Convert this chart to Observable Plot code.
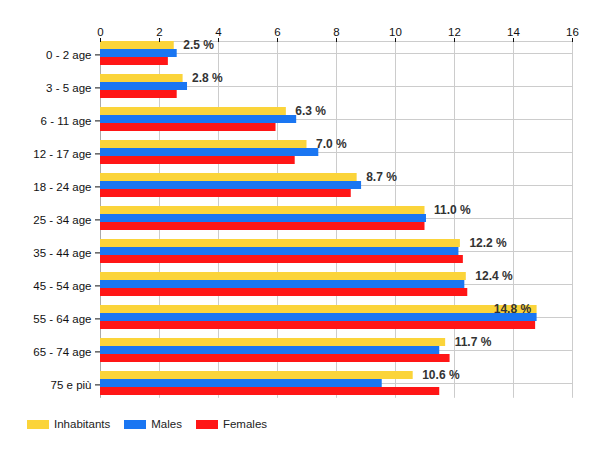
<!DOCTYPE html>
<html><head><meta charset="utf-8">
<script src="https://cdn.jsdelivr.net/npm/d3@7"></script>
<script src="https://cdn.jsdelivr.net/npm/@observablehq/plot@0.6"></script>
<style>
body{margin:0;background:#fff;font-family:"Liberation Sans",Arial,sans-serif}
#wrap{position:relative;width:600px;height:450px}
#legend{position:absolute;left:27px;top:417px;display:flex;font-size:11.5px;color:#222;line-height:14px}
.item{display:flex;align-items:center;margin-right:14px}
.sw{width:22px;height:9px;margin-right:5px}
</style></head>
<body><div id="wrap"><div id="chart"></div><div id="legend"></div></div>
<script>
const categories = ["0 - 2 age","3 - 5 age","6 - 11 age","12 - 17 age","18 - 24 age","25 - 34 age","35 - 44 age","45 - 54 age","55 - 64 age","65 - 74 age","75 e più"];
const series = ["Inhabitants","Males","Females"];
const inhabitants = [2.5, 2.8, 6.3, 7.0, 8.7, 11.0, 12.2, 12.4, 14.8, 11.7, 10.6];
const males = [2.6, 2.95, 6.65, 7.4, 8.85, 11.05, 12.15, 12.35, 14.8, 11.5, 9.55];
const females = [2.3, 2.6, 5.95, 6.6, 8.5, 11.0, 12.3, 12.45, 14.75, 11.85, 11.5];
const xTicks = [0,2,4,6,8,10,12,14,16];
const colors = ["#fbd43a","#1a76f2","#ff1616"];

const seriesValues = [inhabitants, males, females];
const data = categories.flatMap((c,i) => series.map((s,j) => ({cat:c, s, v:seriesValues[j][i]})));
const labels = data.filter(d => d.s === "Inhabitants");
const fmt = d => d.v.toFixed(1) + " %";
const lastCat = categories[categories.length - 1];
const grid = categories.flatMap(c => xTicks.map(x => ({cat:c, x})));
const gridMain = grid.filter(d => d.cat !== lastCat);
const gridLast = grid.filter(d => d.cat === lastCat);

const chart = Plot.plot({
  width:600, height:410, marginTop:40, marginRight:28, marginBottom:5, marginLeft:100,
  style:{fontFamily:'"Liberation Sans", Arial, sans-serif', fontSize:"11.5px", color:"#111", background:"#fff"},
  x:{domain:[0,16], axis:null},
  y:{domain:series, paddingInner:0, paddingOuter:0.343, align:0, axis:null},
  fy:{domain:categories, padding:0, axis:null, label:null},
  color:{domain:series, range:colors},
  marks:[
    Plot.ruleX(gridMain, {x:"x", fy:"cat", stroke:d => d.x === 0 ? "#aaa" : "#ccc", strokeOpacity:1}),
    Plot.ruleX(gridLast, {x:"x", fy:"cat", stroke:d => d.x === 0 ? "#aaa" : "#ccc", strokeOpacity:1, insetBottom:6.2}),
    Plot.ruleY(["Males"], {stroke:"#ccc", strokeOpacity:1}),
    Plot.frame({anchor:"top", facet:"super", stroke:"#ccc", strokeOpacity:1}),
    Plot.barX(data, {x:"v", y:"s", fy:"cat", fill:"s"}),
    Plot.axisX(xTicks, {anchor:"top", tickSize:4, tickPadding:2, label:null, fill:"#111"}),
    Plot.axisFy({anchor:"left", tickSize:5, tickPadding:4, dy:-3.1, label:null, fill:"#111", stroke:"#111"}),
    Plot.text(labels.filter(d => d.v <= 14.4), {x:"v", y:"s", fy:"cat", text:fmt, textAnchor:"start", dx:9, fontSize:12, fontWeight:"bold", fill:"#333"}),
    Plot.text(labels.filter(d => d.v > 14.4), {x:"v", y:"s", fy:"cat", text:fmt, textAnchor:"end", dx:-6, fontSize:12, fontWeight:"bold", fill:"#333"})
  ]
});
document.getElementById("chart").appendChild(chart);

const legend = document.getElementById("legend");
series.forEach((s,i) => {
  const it = document.createElement("div"); it.className = "item";
  const sw = document.createElement("div"); sw.className = "sw"; sw.style.background = colors[i];
  const t = document.createElement("span"); t.textContent = s;
  it.appendChild(sw); it.appendChild(t); legend.appendChild(it);
});
</script></body></html>
